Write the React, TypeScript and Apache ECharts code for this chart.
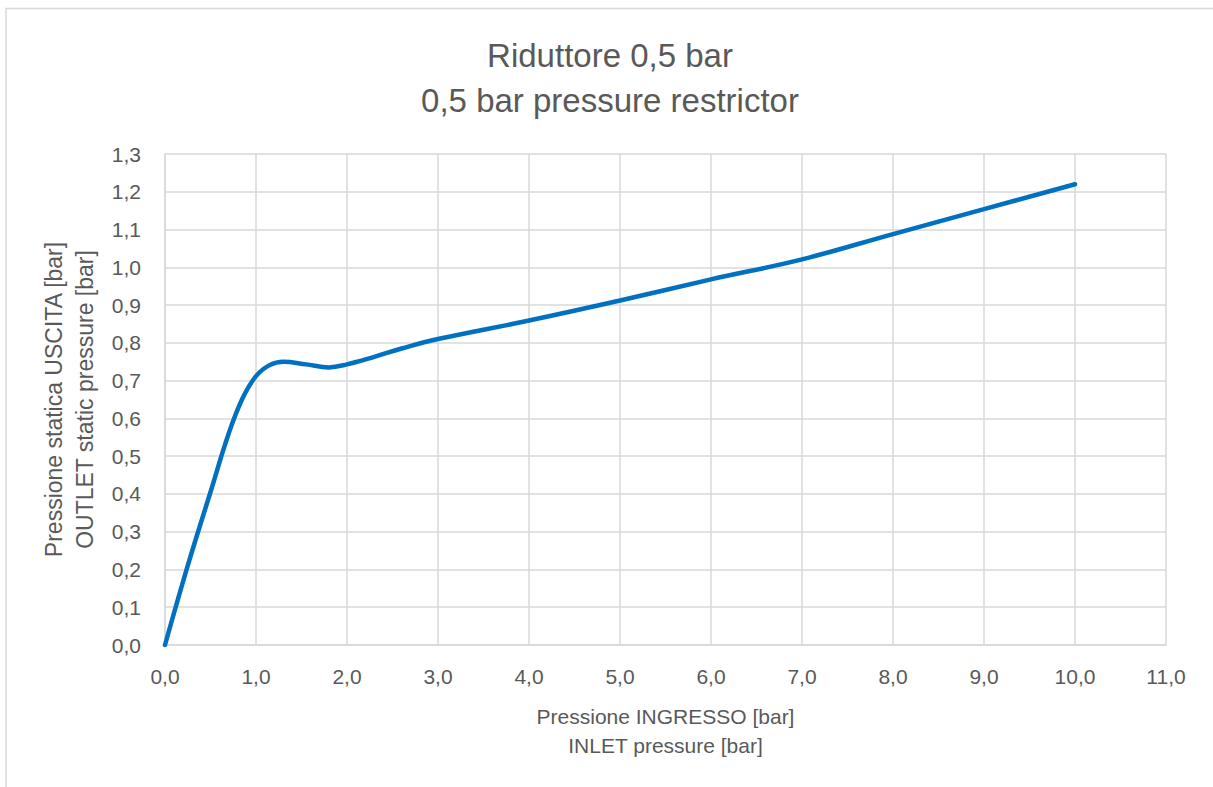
import React, { useEffect, useRef } from "react";
import * as echarts from "echarts";

const titleLines = ["Riduttore 0,5 bar", "0,5 bar pressure restrictor"];
const xAxisName = ["Pressione INGRESSO [bar]", "INLET pressure [bar]"];
const yAxisName = ["Pressione statica USCITA [bar]", "OUTLET static pressure [bar]"];

const inletPressure = [0, 0.25, 0.5, 0.7, 0.85, 1.0, 1.15, 1.3, 1.55, 1.8, 2.0, 2.3, 2.6, 3.0, 4, 5, 6, 7, 8, 9, 10];
const outletPressure = [0, 0.21, 0.405, 0.56, 0.652, 0.712, 0.741, 0.75, 0.743, 0.735, 0.743, 0.763, 0.785, 0.81, 0.859, 0.912, 0.968, 1.021, 1.088, 1.154, 1.22];

const FONT = "Liberation Sans";
const TEXT = "#595959";
const GRID = "#d9d9d9";

const fmt = (v: number) => v.toFixed(1).replace(".", ",");

export default function App() {
  const ref = useRef<HTMLDivElement>(null);
  useEffect(() => {
    if (!ref.current) return;
    const chart = echarts.init(ref.current, undefined, { renderer: "svg" });
    chart.setOption({
      animation: false,
      backgroundColor: "#ffffff",
      textStyle: { fontFamily: FONT },
      graphic: [
        {
          type: "rect",
          shape: { x: 6, y: 8.5, width: 1300, height: 900 },
          style: { fill: "none", stroke: GRID, lineWidth: 1.5 },
          silent: true,
        },
        {
          type: "text",
          x: 610,
          y: 55,
          style: {
            text: titleLines[0],
            fill: TEXT,
            font: `33px ${FONT}`,
            textAlign: "center",
            textVerticalAlign: "middle",
          },
        },
        {
          type: "text",
          x: 610,
          y: 100,
          style: {
            text: titleLines[1],
            fill: TEXT,
            font: `33px ${FONT}`,
            textAlign: "center",
            textVerticalAlign: "middle",
          },
        },
      ],
      grid: { left: 165, top: 154, right: 47, bottom: 142, containLabel: false },
      xAxis: {
        type: "value",
        min: 0,
        max: 11,
        interval: 1,
        name: xAxisName.join("\n"),
        nameLocation: "middle",
        nameGap: 57,
        nameTextStyle: { color: TEXT, fontSize: 21, lineHeight: 29, fontFamily: FONT },
        axisLine: { show: true, lineStyle: { color: GRID, width: 1.5 } },
        axisTick: { show: false },
        splitLine: { show: true, lineStyle: { color: GRID, width: 1.5 } },
        axisLabel: { color: TEXT, fontSize: 21, margin: 21, formatter: fmt, fontFamily: FONT },
      },
      yAxis: {
        type: "value",
        min: 0,
        max: 1.3,
        interval: 0.1,
        name: yAxisName.join("\n"),
        nameLocation: "middle",
        nameGap: 62,
        nameTextStyle: { color: TEXT, fontSize: 23, lineHeight: 31, fontFamily: FONT },
        axisLine: { show: true, lineStyle: { color: GRID, width: 1.5 } },
        axisTick: { show: false },
        splitLine: { show: true, lineStyle: { color: GRID, width: 1.5 } },
        axisLabel: { color: TEXT, fontSize: 21, margin: 24, formatter: fmt, fontFamily: FONT },
      },
      series: [
        {
          type: "line",
          data: inletPressure.map((x, i) => [x, outletPressure[i]]),
          smooth: 0.4,
          showSymbol: false,
          symbol: "none",
          lineStyle: { color: "#0070C0", width: 4.5, cap: "round" },
          clip: false,
        },
      ],
    });
    return () => chart.dispose();
  }, []);
  return (
    <div
      ref={ref}
      style={{ position: "absolute", left: 0, top: 0, width: 1213, height: 787 }}
    />
  );
}
